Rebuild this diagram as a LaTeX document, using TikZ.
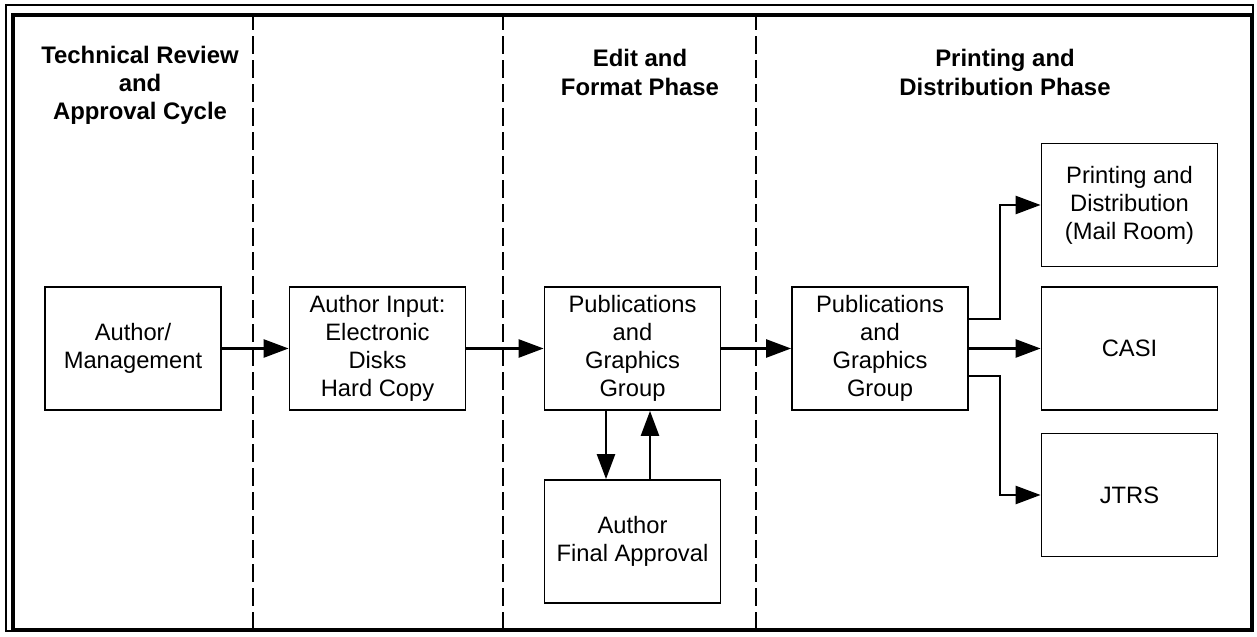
\documentclass[tikz,border=0pt]{standalone}
\usepackage{fontspec}
\setmainfont{Liberation Sans}
\usetikzlibrary{arrows.meta}

\begin{document}
\begin{tikzpicture}[
        scale=1,
        font=\fontsize{13.5}{16}\selectfont
    ]
    \tikzset{
        box/.style = {rectangle, draw=black, line width=1pt, align=center,
                      minimum width=3.52cm, minimum height=2.46cm, inner sep=0pt},
        head/.style = {align=center, font=\fontsize{13.6}{16}\selectfont\bfseries},
        arr/.style = {-{Triangle[length=0.5cm,width=0.36cm]}, line width=1.4pt},
        sep/.style = {line width=0.6pt, dash pattern=on 0.36cm off 0.12cm},
    }
    \useasboundingbox (0,0) rectangle (25.14,12.74);
    \draw[line width=1.1pt] (0.12,0.12) rectangle (25.06,12.64);
    \draw[line width=1.9pt] (0.26,0.14) rectangle (25.04,12.44);
    \foreach \xx in {5.06,10.06,15.12}
        \draw[sep] (\xx,0.14) -- (\xx,12.44);
    %
    \node[head] at (2.8,11.04) (h1) {Technical Review\\and\\Approval Cycle};
    \node[head] at (12.8,11.29) (h2) {Edit and\\Format Phase};
    \node[head] at (20.1,11.29) (h3) {Printing and\\Distribution Phase};
    %
    \node[box] at (2.66,5.77) (mgmt) {Author/\\Management};
    \node[box] at (7.55,5.77) (input) {Author Input:\\Electronic\\Disks\\Hard Copy};
    \node[box] at (12.65,5.77) (pubA) {Publications\\and\\Graphics\\Group};
    \node[box] at (12.65,1.91) (approval) {Author\\Final Approval};
    \node[box] at (17.6,5.77) (pubB) {Publications\\and\\Graphics\\Group};
    \node[box] at (22.59,8.64) (printing) {Printing and\\Distribution\\(Mail Room)};
    \node[box] at (22.59,5.77) (casi) {CASI};
    \node[box] at (22.59,2.84) (jtrs) {JTRS};
    \coordinate (split) at (20.0,0);
    %
    \draw[arr] (mgmt) -- (input);
    \draw[arr] (input) -- (pubA);
    \draw[arr] (pubA) -- (pubB);
    %
    \draw[arr] ([xshift=-0.53cm]pubA.south) -- ([xshift=-0.53cm]approval.north);
    \draw[arr] ([xshift=0.35cm]approval.north) -- ([xshift=0.35cm]pubA.south);
    %
    \draw[arr] ([yshift=0.59cm]pubB.east) -| (split |- printing.west) -- (printing.west);
    \draw[arr] (pubB) -- (casi);
    \draw[arr] ([yshift=-0.55cm]pubB.east) -| (split |- jtrs.west) -- (jtrs.west);
\end{tikzpicture}
\end{document}
